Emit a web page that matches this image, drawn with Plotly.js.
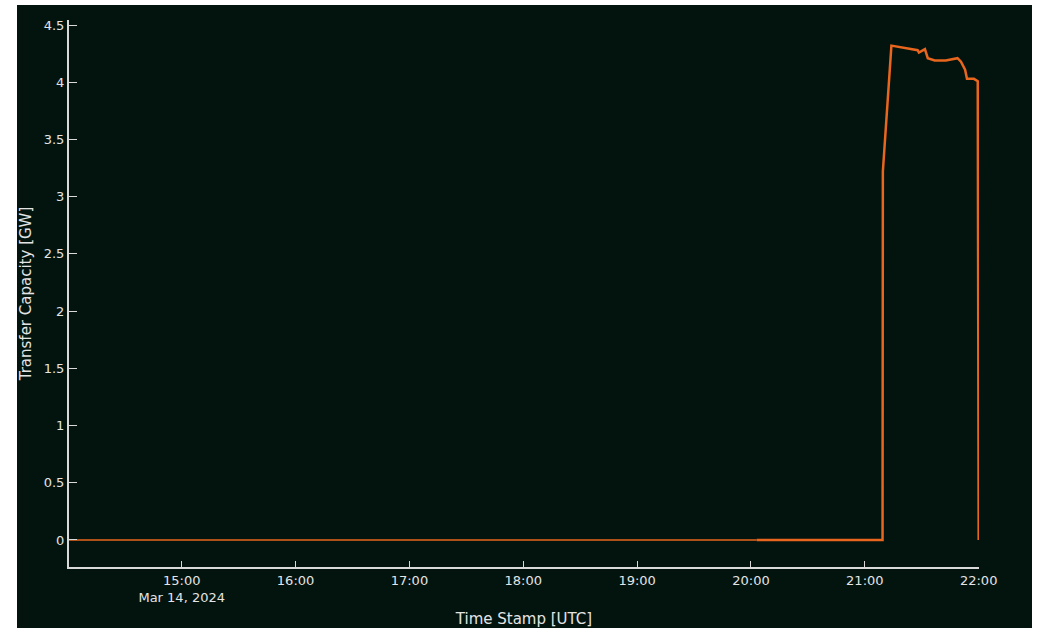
<!DOCTYPE html>
<html>
<head>
<meta charset="utf-8">
<script src="https://cdn.plot.ly/plotly-3.0.1.min.js"></script>
<style>
  html, body { margin: 0; padding: 0; background: #ffffff; }
  #chart { position: absolute; left: 17px; top: 5px; width: 1015px; height: 623px; }
</style>
</head>
<body>
<div id="chart"></div>
<script>
// Transfer capacity, 14 March 2024 (UTC)
// Earlier feed: flat at zero for most of the day
const earlyTimes = ['2024-03-14 14:00:36', '2024-03-14 20:03:00'];
const earlyValues = [0, 0];

// Later feed: zero, then the evening ramp and the drop at 22:00
const lateTimes = [
  '2024-03-14 20:03:00', '2024-03-14 21:09:20', '2024-03-14 21:09:30',
  '2024-03-14 21:14:00', '2024-03-14 21:27:50', '2024-03-14 21:28:30',
  '2024-03-14 21:31:40', '2024-03-14 21:33:10', '2024-03-14 21:36:50',
  '2024-03-14 21:42:40', '2024-03-14 21:48:50', '2024-03-14 21:50:40',
  '2024-03-14 21:52:50', '2024-03-14 21:53:50', '2024-03-14 21:57:30',
  '2024-03-14 21:59:30', '2024-03-14 22:00:00'
];
const lateValues = [
  0, 0, 3.22,
  4.32, 4.28, 4.26,
  4.29, 4.21, 4.19,
  4.19, 4.21, 4.18,
  4.11, 4.03, 4.03,
  4.01, 0
];

const lineColor = '#e8661e';
const axisColor = '#d9d9d9';
const textColor = '#e4e4e4';

const traces = [
  {
    x: earlyTimes, y: earlyValues, type: 'scatter', mode: 'lines',
    line: { color: lineColor, width: 1.5 }, hoverinfo: 'x+y'
  },
  {
    x: lateTimes, y: lateValues, type: 'scatter', mode: 'lines',
    line: { color: lineColor, width: 2.5 }, hoverinfo: 'x+y'
  }
];

const layout = {
  width: 1015, height: 623,
  paper_bgcolor: '#03140f',
  plot_bgcolor: '#03140f',
  showlegend: false,
  margin: { l: 52, r: 53, t: 15, b: 61 },
  font: { family: 'DejaVu Sans, Verdana, sans-serif', size: 13, color: textColor },
  xaxis: {
    type: 'date',
    range: ['2024-03-14 14:00:36', '2024-03-14 22:00:10'],
    showgrid: false, zeroline: false,
    showline: true, linecolor: axisColor, linewidth: 2,
    ticks: 'inside', ticklen: 6, tickcolor: axisColor, tickwidth: 1,
    dtick: 3600000,
    tickfont: { size: 13, color: textColor },
    title: { text: 'Time Stamp [UTC]', font: { size: 15, color: textColor }, standoff: 10 }
  },
  yaxis: {
    range: [-0.236, 4.544],
    showgrid: false, zeroline: false,
    showline: true, linecolor: axisColor, linewidth: 2,
    ticks: 'inside', ticklen: 8, tickcolor: axisColor, tickwidth: 1,
    dtick: 0.5,
    tickfont: { size: 13, color: textColor },
    title: { text: 'Transfer Capacity [GW]', font: { size: 15, color: textColor }, standoff: 10 }
  }
};

Plotly.newPlot('chart', traces, layout, { displayModeBar: false, staticPlot: true });
</script>
</body>
</html>
